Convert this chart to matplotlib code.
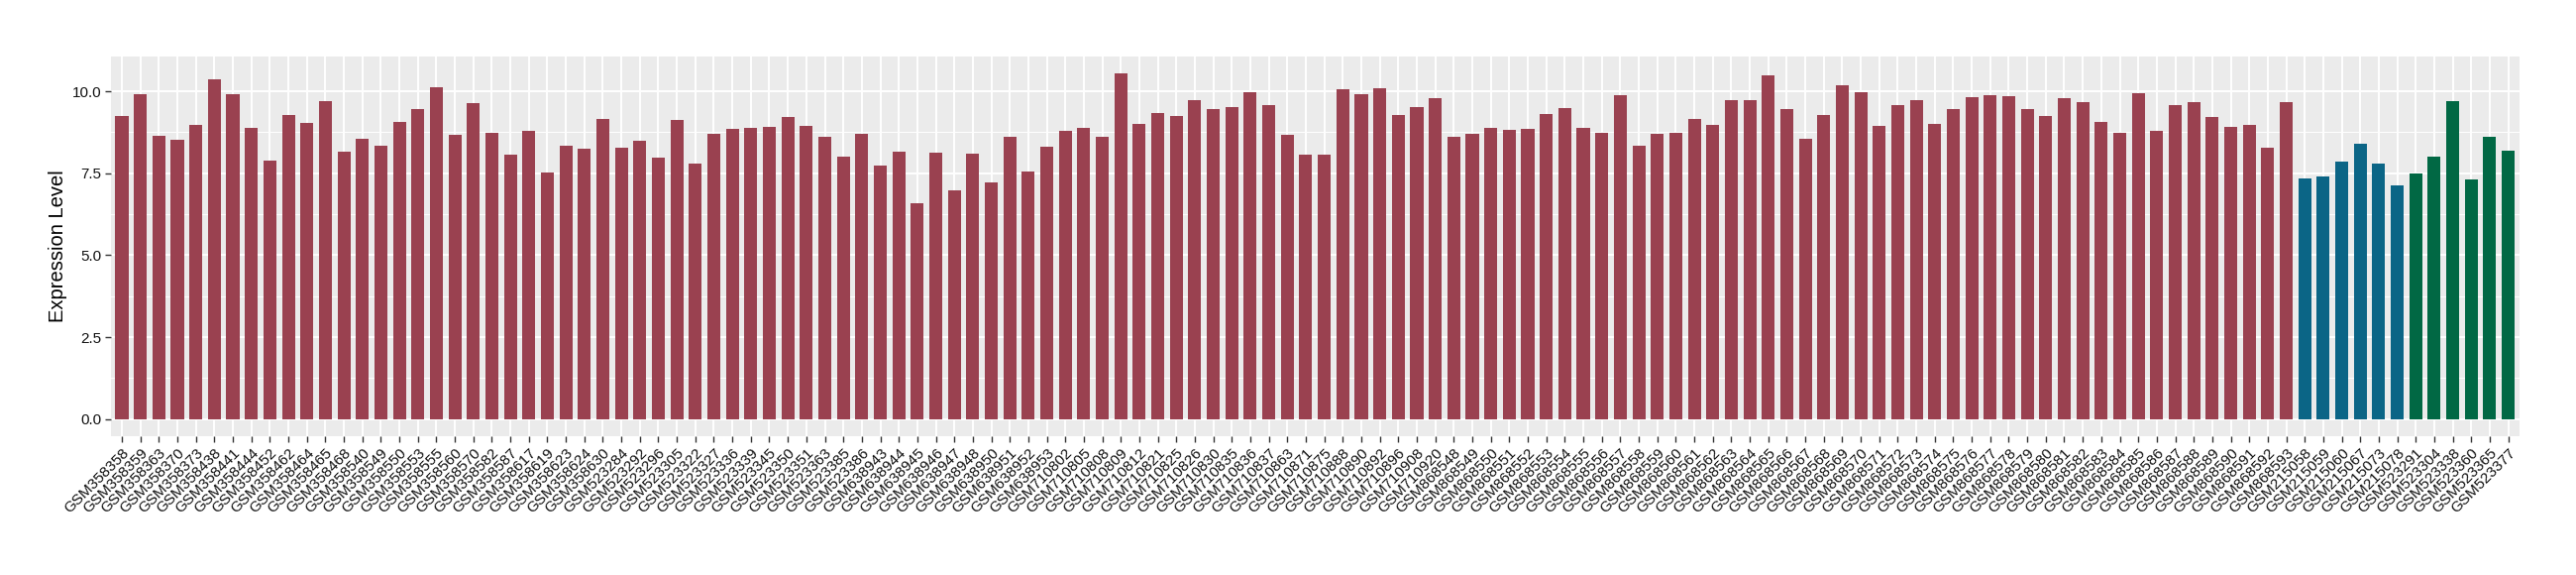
import matplotlib
matplotlib.use("Agg")
import matplotlib.pyplot as plt
import numpy as np

plt.rcParams['font.family'] = ['Liberation Sans', 'DejaVu Sans']

# sample ids, grouped by series
ids_red = [
    "GSM358358", "GSM358359", "GSM358363", "GSM358370", "GSM358373", "GSM358438",
    "GSM358441", "GSM358444", "GSM358452", "GSM358462", "GSM358464", "GSM358465",
    "GSM358468", "GSM358540", "GSM358549", "GSM358550", "GSM358553", "GSM358555",
    "GSM358560", "GSM358570", "GSM358582", "GSM358587", "GSM358617", "GSM358619",
    "GSM358623", "GSM358624", "GSM358630",
    "GSM523284", "GSM523292", "GSM523296", "GSM523305", "GSM523322", "GSM523327",
    "GSM523336", "GSM523339", "GSM523345", "GSM523350", "GSM523351", "GSM523363",
    "GSM523385", "GSM523386",
    "GSM638943", "GSM638944", "GSM638945", "GSM638946", "GSM638947", "GSM638948",
    "GSM638950", "GSM638951", "GSM638952", "GSM638953",
    "GSM710802", "GSM710805", "GSM710808", "GSM710809", "GSM710812", "GSM710821",
    "GSM710825", "GSM710826", "GSM710830", "GSM710835", "GSM710836", "GSM710837",
    "GSM710863", "GSM710871", "GSM710875", "GSM710888", "GSM710890", "GSM710892",
    "GSM710896", "GSM710908", "GSM710920",
] + ["GSM8685%02d" % n for n in range(48, 94)]
ids_blue = ["GSM215058", "GSM215059", "GSM215060", "GSM215067", "GSM215073", "GSM215078"]
ids_green = ["GSM523291", "GSM523304", "GSM523338", "GSM523360", "GSM523365", "GSM523377"]

vals_red = [
    9.26, 9.90, 8.65, 8.53, 8.99, 10.38, 9.90, 8.87, 7.89, 9.29, 9.05, 9.69,
    8.17, 8.56, 8.35, 9.08, 9.47, 10.11, 8.68, 9.63, 8.74, 8.08, 8.78, 7.53,
    8.35, 8.26, 9.17,
    8.29, 8.50, 7.99, 9.14, 7.80, 8.71, 8.84, 8.87, 8.93, 9.23, 8.96, 8.62,
    8.02, 8.71,
    7.74, 8.17, 6.59, 8.14, 6.98, 8.11, 7.23, 8.62, 7.56, 8.32,
    8.78, 8.87, 8.62, 10.54, 9.02, 9.35, 9.26, 9.72, 9.45, 9.53, 9.96, 9.57,
    8.68, 8.08, 8.08, 10.05, 9.90, 10.08, 9.29, 9.53, 9.78,
    8.62, 8.71, 8.87, 8.81, 8.84, 9.32, 9.50, 8.87, 8.74, 9.87, 8.35, 8.71,
    8.74, 9.17, 8.99, 9.72, 9.72, 10.48, 9.47, 8.56, 9.29, 10.20, 9.96, 8.96,
    9.57, 9.72, 9.02, 9.45, 9.81, 9.87, 9.84, 9.45, 9.26, 9.78, 9.66, 9.08,
    8.74, 9.93, 8.78, 9.57, 9.66, 9.23, 8.93, 8.99, 8.29, 9.66,
]
vals_blue = [7.35, 7.41, 7.86, 8.41, 7.80, 7.14]
vals_green = [7.50, 8.02, 9.69, 7.32, 8.62, 8.20]

labels = ids_red + ids_blue + ids_green
values = vals_red + vals_blue + vals_green
colors = ["#9A4150"] * len(vals_red) + ["#0B6586"] * len(vals_blue) + ["#016844"] * len(vals_green)

fig = plt.figure(figsize=(26, 5.8), dpi=100)
ax = fig.add_axes([0.043, 0.241, 0.935, 0.661])
ax.set_facecolor("#EBEBEB")

x = np.arange(len(values))
ax.bar(x, values, width=0.7, color=colors, zorder=3)

ymax = max(values) * 1.05
ax.set_xlim(-0.6, len(values) - 0.4)
ax.set_ylim(-max(values) * 0.05, ymax)

ax.set_yticks([0, 2.5, 5.0, 7.5, 10.0])
ax.set_yticklabels(["0.0", "2.5", "5.0", "7.5", "10.0"])
ax.set_yticks([1.25, 3.75, 6.25, 8.75], minor=True)
ax.set_xticks(x)
ax.set_xticklabels(labels, rotation=45, ha="right", rotation_mode="anchor")

ax.grid(True, which="major", color="white", linewidth=1.4, zorder=0)
ax.grid(True, which="minor", axis="y", color="white", linewidth=0.7, zorder=0)
ax.set_axisbelow(True)
for s in ax.spines.values():
    s.set_visible(False)

ax.tick_params(axis="both", which="major", length=4, width=1, color="#333333",
               labelsize=11, labelcolor="#111111", pad=3)
ax.tick_params(axis="both", which="minor", length=0)

ax.set_ylabel("Expression Level", fontsize=14.5, labelpad=3)

fig.savefig("out.png", dpi=100)
